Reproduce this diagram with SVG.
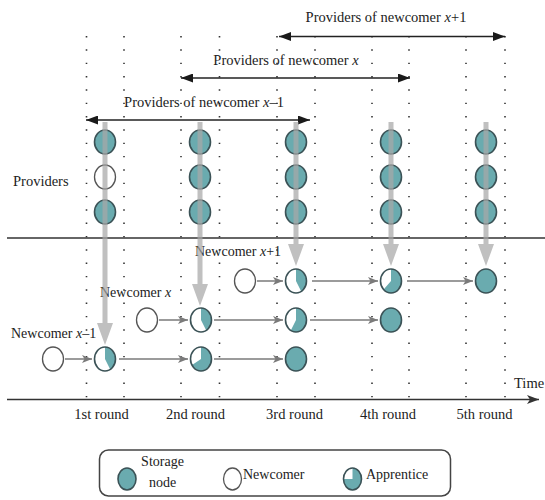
<svg xmlns="http://www.w3.org/2000/svg" width="545" height="500" viewBox="0 0 545 500" font-family="'Liberation Serif', 'Times New Roman', serif">
  <style>
    text { font-family: 'Liberation Serif', 'Times New Roman', serif; fill: #222; }
    .lbl { font-size: 14.5px; }
    .small { font-size: 14px; }
    .it { font-style: italic; }
    .grid { stroke: #333; stroke-width: 1.6; stroke-dasharray: 1.4 11.93; fill: none; }
    .store { fill: #6aabaf; stroke: #3b5256; stroke-width: 1.6; }
    .new { fill: #fff; stroke: #555; stroke-width: 1.3; }
    .appr-bg { fill: #fff; stroke: none; }
    .appr-fill { fill: #6aabaf; stroke: none; }
    .appr-ring { fill: none; stroke: #3b5256; stroke-width: 1.6; }
    .flow { stroke: #7a7a7a; stroke-width: 1.5; fill: none; marker-end: url(#grayHead); }
    .span { stroke: #222; stroke-width: 1.5; fill: none; marker-start: url(#blackStart); marker-end: url(#blackEnd); }
    .feed { fill: #a8a8a8; opacity: 0.72; }
  </style>
  <defs>
    <marker id="grayHead" viewBox="0 0 10 8" refX="10" refY="4" markerWidth="10" markerHeight="8" markerUnits="userSpaceOnUse" orient="auto">
      <path d="M0,0 L10,4 L0,8 L2.5,4 Z" fill="#7a7a7a"/>
    </marker>
    <marker id="blackEnd" viewBox="0 0 12 9" refX="12" refY="4.5" markerWidth="12" markerHeight="9" markerUnits="userSpaceOnUse" orient="auto">
      <path d="M0,0 L12,4.5 L0,9 Z" fill="#1a1a1a"/>
    </marker>
    <marker id="blackStart" viewBox="0 0 12 9" refX="0" refY="4.5" markerWidth="12" markerHeight="9" markerUnits="userSpaceOnUse" orient="auto">
      <path d="M12,0 L0,4.5 L12,9 Z" fill="#1a1a1a"/>
    </marker>
    <marker id="axisHead" viewBox="0 0 12 9" refX="12" refY="4.5" markerWidth="12" markerHeight="9" markerUnits="userSpaceOnUse" orient="auto">
      <path d="M0,0 L12,4.5 L0,9 L3,4.5 Z" fill="#333"/>
    </marker>
  </defs>

  <!-- round boundaries (dotted) -->
  <g id="grid">
    <line class="grid" x1="86.5" y1="36" x2="86.5" y2="401"/>
    <line class="grid" x1="124" y1="36" x2="124" y2="401"/>
    <line class="grid" x1="181" y1="36" x2="181" y2="401"/>
    <line class="grid" x1="219.5" y1="36" x2="219.5" y2="401"/>
    <line class="grid" x1="277" y1="36" x2="277" y2="401"/>
    <line class="grid" x1="315" y1="36" x2="315" y2="401"/>
    <line class="grid" x1="372" y1="36" x2="372" y2="401"/>
    <line class="grid" x1="409" y1="36" x2="409" y2="401"/>
    <line class="grid" x1="466" y1="36" x2="466" y2="401"/>
    <line class="grid" x1="505" y1="36" x2="505" y2="401"/>
  </g>

  <!-- provider spans -->
  <g id="spans">
    <text class="lbl" x="386" y="22" text-anchor="middle">Providers of newcomer <tspan class="it">x</tspan>+1</text>
    <line class="span" x1="279" y1="36.5" x2="505" y2="36.5"/>
    <text class="lbl" x="286" y="65" text-anchor="middle">Providers of newcomer <tspan class="it">x</tspan></text>
    <line class="span" x1="181" y1="78" x2="410" y2="78"/>
    <text class="lbl" x="204" y="107" text-anchor="middle">Providers of newcomer <tspan class="it">x</tspan>–1</text>
    <line class="span" x1="86" y1="120" x2="310" y2="120"/>
  </g>

  <text class="lbl" x="13" y="186">Providers</text>

  <!-- separator between providers and newcomers -->
  <line x1="7" y1="238" x2="545" y2="238" stroke="#333" stroke-width="1.5"/>

  <!-- provider nodes -->
  <g id="providers">
    <g id="p1">
      <ellipse class="store" cx="105" cy="142" rx="10.5" ry="12"/>
      <ellipse class="new" cx="105" cy="177" rx="10.5" ry="12"/>
      <ellipse class="store" cx="105" cy="212" rx="10.5" ry="12"/>
    </g>
    <g id="p2">
      <ellipse class="store" cx="200" cy="142" rx="10.5" ry="12"/>
      <ellipse class="store" cx="200" cy="177" rx="10.5" ry="12"/>
      <ellipse class="store" cx="200" cy="212" rx="10.5" ry="12"/>
    </g>
    <g id="p3">
      <ellipse class="store" cx="296" cy="142" rx="10.5" ry="12"/>
      <ellipse class="store" cx="296" cy="177" rx="10.5" ry="12"/>
      <ellipse class="store" cx="296" cy="212" rx="10.5" ry="12"/>
    </g>
    <g id="p4">
      <ellipse class="store" cx="391" cy="142" rx="10.5" ry="12"/>
      <ellipse class="store" cx="391" cy="177" rx="10.5" ry="12"/>
      <ellipse class="store" cx="391" cy="212" rx="10.5" ry="12"/>
    </g>
    <g id="p5">
      <ellipse class="store" cx="486" cy="142" rx="10.5" ry="12"/>
      <ellipse class="store" cx="486" cy="177" rx="10.5" ry="12"/>
      <ellipse class="store" cx="486" cy="212" rx="10.5" ry="12"/>
    </g>
  </g>

  <!-- newcomer labels -->
  <text class="small" x="11" y="338">Newcomer <tspan class="it">x</tspan>–1</text>
  <text class="small" x="100" y="297">Newcomer <tspan class="it">x</tspan></text>
  <text class="small" x="195" y="256">Newcomer <tspan class="it">x</tspan>+1</text>

  <!-- newcomers and apprentices -->
  <g id="row3">
    <ellipse id="n-x-1" class="new" cx="53" cy="359" rx="10.5" ry="12"/>
    <g id="a31">
      <ellipse class="appr-bg" cx="105" cy="359" rx="10.5" ry="12"/>
      <path class="appr-fill" d="M105,359 L105,347 A10.5,12 0 0 1 110.25,369.39 Z"/>
      <ellipse class="appr-ring" cx="105" cy="359" rx="10.5" ry="12"/>
    </g>
    <g id="a32">
      <ellipse class="appr-bg" cx="201" cy="359" rx="10.5" ry="12"/>
      <path class="appr-fill" d="M201,359 L201,347 A10.5,12 0 1 1 192.0,365.0 Z"/>
      <ellipse class="appr-ring" cx="201" cy="359" rx="10.5" ry="12"/>
    </g>
    <ellipse id="s33" class="store" cx="296" cy="359" rx="10.5" ry="12"/>
  </g>
  <g id="row2">
    <ellipse id="n-x" class="new" cx="147" cy="320" rx="10.5" ry="12"/>
    <g id="a22">
      <ellipse class="appr-bg" cx="201" cy="320" rx="10.5" ry="12"/>
      <path class="appr-fill" d="M201,320 L201,308 A10.5,12 0 0 1 206.25,330.39 Z"/>
      <ellipse class="appr-ring" cx="201" cy="320" rx="10.5" ry="12"/>
    </g>
    <g id="a23">
      <ellipse class="appr-bg" cx="296" cy="320" rx="10.5" ry="12"/>
      <path class="appr-fill" d="M296,320 L296,308 A10.5,12 0 1 1 290.75,330.39 Z"/>
      <ellipse class="appr-ring" cx="296" cy="320" rx="10.5" ry="12"/>
    </g>
    <ellipse id="s24" class="store" cx="391" cy="320" rx="10.5" ry="12"/>
  </g>
  <g id="row1">
    <ellipse id="n-x+1" class="new" cx="245" cy="281" rx="10.5" ry="12"/>
    <g id="a13">
      <ellipse class="appr-bg" cx="296" cy="281" rx="10.5" ry="12"/>
      <path class="appr-fill" d="M296,281 L296,269 A10.5,12 0 0 1 301.25,291.39 Z"/>
      <ellipse class="appr-ring" cx="296" cy="281" rx="10.5" ry="12"/>
    </g>
    <g id="a14">
      <ellipse class="appr-bg" cx="391" cy="281" rx="10.5" ry="12"/>
      <path class="appr-fill" d="M391,281 L391,269 A10.5,12 0 1 1 383.6,289.5 Z"/>
      <ellipse class="appr-ring" cx="391" cy="281" rx="10.5" ry="12"/>
    </g>
    <ellipse id="s15" class="store" cx="486" cy="281" rx="10.5" ry="12"/>
  </g>

  <!-- connectors -->
  <g id="connectors">
    <!-- data fed from providers to the newest apprentice of each round -->
    <g id="feeds">
      <path class="feed" d="M102.5,122 H107.5 V323 H113 L105,345 L97,323 H102.5 Z"/>
      <path class="feed" d="M197.5,122 H202.5 V284 H208 L200,306 L192,284 H197.5 Z"/>
      <path class="feed" d="M293.5,122 H298.5 V244 H304 L296,266 L288,244 H293.5 Z"/>
      <path class="feed" d="M388.5,122 H393.5 V244 H399 L391,266 L383,244 H388.5 Z"/>
      <path class="feed" d="M483.5,122 H488.5 V244 H494 L486,266 L478,244 H483.5 Z"/>
    </g>
    <g id="flows">
      <line class="flow" x1="65" y1="359" x2="92" y2="359"/>
      <line class="flow" x1="119" y1="359" x2="188" y2="359"/>
      <line class="flow" x1="214" y1="359" x2="283" y2="359"/>
      <line class="flow" x1="159" y1="320" x2="188" y2="320"/>
      <line class="flow" x1="214" y1="320" x2="283" y2="320"/>
      <line class="flow" x1="310" y1="320" x2="378" y2="320"/>
      <line class="flow" x1="257" y1="281" x2="283" y2="281"/>
      <line class="flow" x1="312" y1="281" x2="378" y2="281"/>
      <line class="flow" x1="407" y1="281" x2="473" y2="281"/>
    </g>
  </g>

  <!-- time axis -->
  <g id="axis">
    <line x1="7" y1="399.5" x2="539" y2="399.5" stroke="#333" stroke-width="1.5" marker-end="url(#axisHead)"/>
    <text class="lbl" x="514" y="388">Time</text>
    <text class="lbl" x="101.5" y="419" text-anchor="middle">1st round</text>
    <text class="lbl" x="195.5" y="419" text-anchor="middle">2nd round</text>
    <text class="lbl" x="294.5" y="419" text-anchor="middle">3rd round</text>
    <text class="lbl" x="388" y="419" text-anchor="middle">4th round</text>
    <text class="lbl" x="484.5" y="419" text-anchor="middle">5th round</text>
  </g>

  <!-- legend -->
  <g id="legend">
    <rect x="99.5" y="450" width="351" height="46" rx="9" fill="none" stroke="#444" stroke-width="1.5"/>
    <ellipse class="store" cx="127" cy="479" rx="9" ry="11"/>
    <text class="small" x="162.5" y="466" text-anchor="middle">Storage</text>
    <text class="small" x="162.5" y="487" text-anchor="middle">node</text>
    <ellipse class="new" cx="232.5" cy="479" rx="9" ry="11"/>
    <text class="small" x="243" y="479">Newcomer</text>
    <g id="legend-apprentice">
      <ellipse class="appr-bg" cx="352.5" cy="479" rx="9" ry="11"/>
      <path class="appr-fill" d="M352.5,479 L352.5,468 A9,11 0 1 1 343.5,479 Z"/>
      <ellipse class="appr-ring" cx="352.5" cy="479" rx="9" ry="11"/>
    </g>
    <text class="small" x="366" y="479">Apprentice</text>
  </g>
</svg>
